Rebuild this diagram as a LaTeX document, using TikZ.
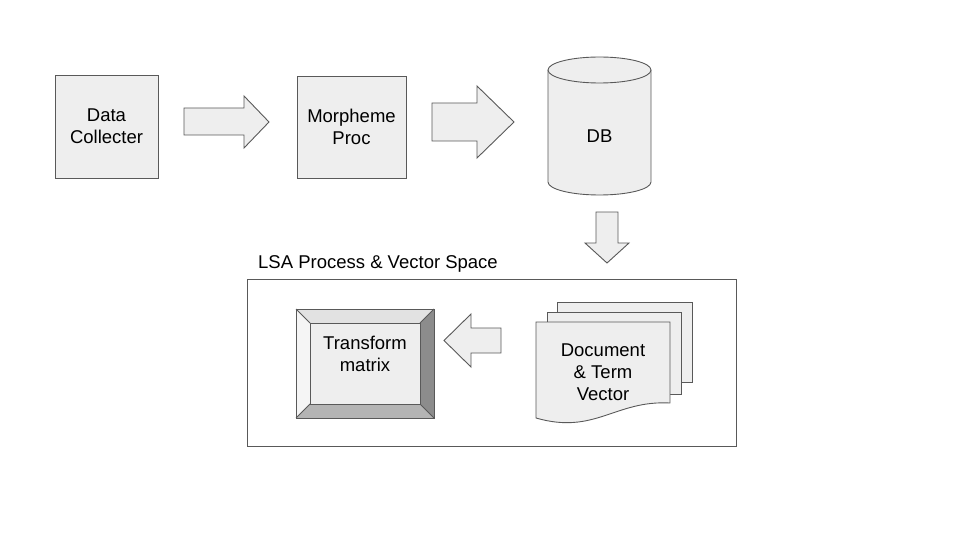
\documentclass[tikz,border=0pt]{standalone}
\usepackage{fontspec}
\setmainfont{Liberation Sans}
\definecolor{edge}{HTML}{595959}
\definecolor{face}{HTML}{EEEEEE}
\definecolor{bevtop}{HTML}{E2E2E2}
\definecolor{bevleft}{HTML}{F5F5F5}
\definecolor{bevright}{HTML}{8C8C8C}
\definecolor{bevbottom}{HTML}{B4B4B4}
\tikzset{
  stroke/.style={draw=edge, line width=0.9pt, line join=miter},
  box/.style={stroke, fill=face, align=center, inner sep=0pt},
  blockarrow/.style={stroke, fill=face},
  label/.style={align=center, inner sep=0pt, text=black},
}
\begin{document}
\begin{tikzpicture}[x=1pt, y=-1pt, font=\fontsize{18.5}{22}\selectfont]
\useasboundingbox (0,0) rectangle (960,540);

% top row boxes
\node[box, minimum width=103pt, minimum height=103pt] (dc) at (106.5,126.5) {Data\\Collecter};
\node[box, minimum width=109pt, minimum height=102pt] (mp) at (351.5,127) {Morpheme\\Proc};

% block arrows top row
\path[blockarrow] (184,108) -- (244,108) -- (244,96) -- (269,122) -- (244,148) -- (244,135) -- (184,135) -- cycle;
\path[blockarrow] (432,103) -- (477,103) -- (477,86) -- (514,122) -- (477,158) -- (477,141) -- (432,141) -- cycle;

% DB cylinder
\path[fill=face] (548,70) -- (548,182) .. controls (548,189.2) and (571.1,195) .. (599.5,195)
  .. controls (627.9,195) and (651,189.2) .. (651,182) -- (651,70) -- cycle;
\draw[stroke] (548,70) -- (548,182) .. controls (548,189.2) and (571.1,195) .. (599.5,195)
  .. controls (627.9,195) and (651,189.2) .. (651,182) -- (651,70);
\draw[stroke, fill=face] (599.5,70) ellipse [x radius=51.5pt, y radius=13pt];
\node[label] (db) at (599.5,136) {DB};

% down arrow
\path[blockarrow] (596,212) -- (618,212) -- (618,243) -- (629,243) -- (607,263) -- (585,243) -- (596,243) -- cycle;

% container
\node[label, anchor=base west] (lsa) at (258,268) {LSA Process \& Vector Space};
\draw[stroke] (247,279) rectangle (736,446);

% document stack
\draw[stroke, fill=face] (557,302) rectangle (692,382);
\draw[stroke, fill=face] (547,312) rectangle (681,394);
\draw[stroke, fill=face] (536,322) -- (670,322) -- (670,403)
  .. controls (615,400) and (595,435) .. (536,418) -- cycle;
\node[label] (dtv) at (603,372) {Document\\\& Term\\Vector};

% left arrow
\path[blockarrow] (501,328) -- (471,328) -- (471,314) -- (444,340.5) -- (471,367) -- (471,353) -- (501,353) -- cycle;

% bevel box
\path[fill=bevtop] (296,309) -- (434,309) -- (420,323) -- (310,323) -- cycle;
\path[fill=bevleft] (296,309) -- (310,323) -- (310,404) -- (296,418) -- cycle;
\path[fill=bevright] (434,309) -- (434,418) -- (420,404) -- (420,323) -- cycle;
\path[fill=bevbottom] (296,418) -- (434,418) -- (420,404) -- (310,404) -- cycle;
\draw[stroke, fill=face] (310,323) rectangle (420,404);
\draw[stroke] (296,309) rectangle (434,418);
\draw[stroke] (296,309) -- (310,323) (434,309) -- (420,323) (296,418) -- (310,404) (434,418) -- (420,404);
\node[label] (tm) at (365,353.5) {Transform\\matrix};
\end{tikzpicture}
\end{document}
